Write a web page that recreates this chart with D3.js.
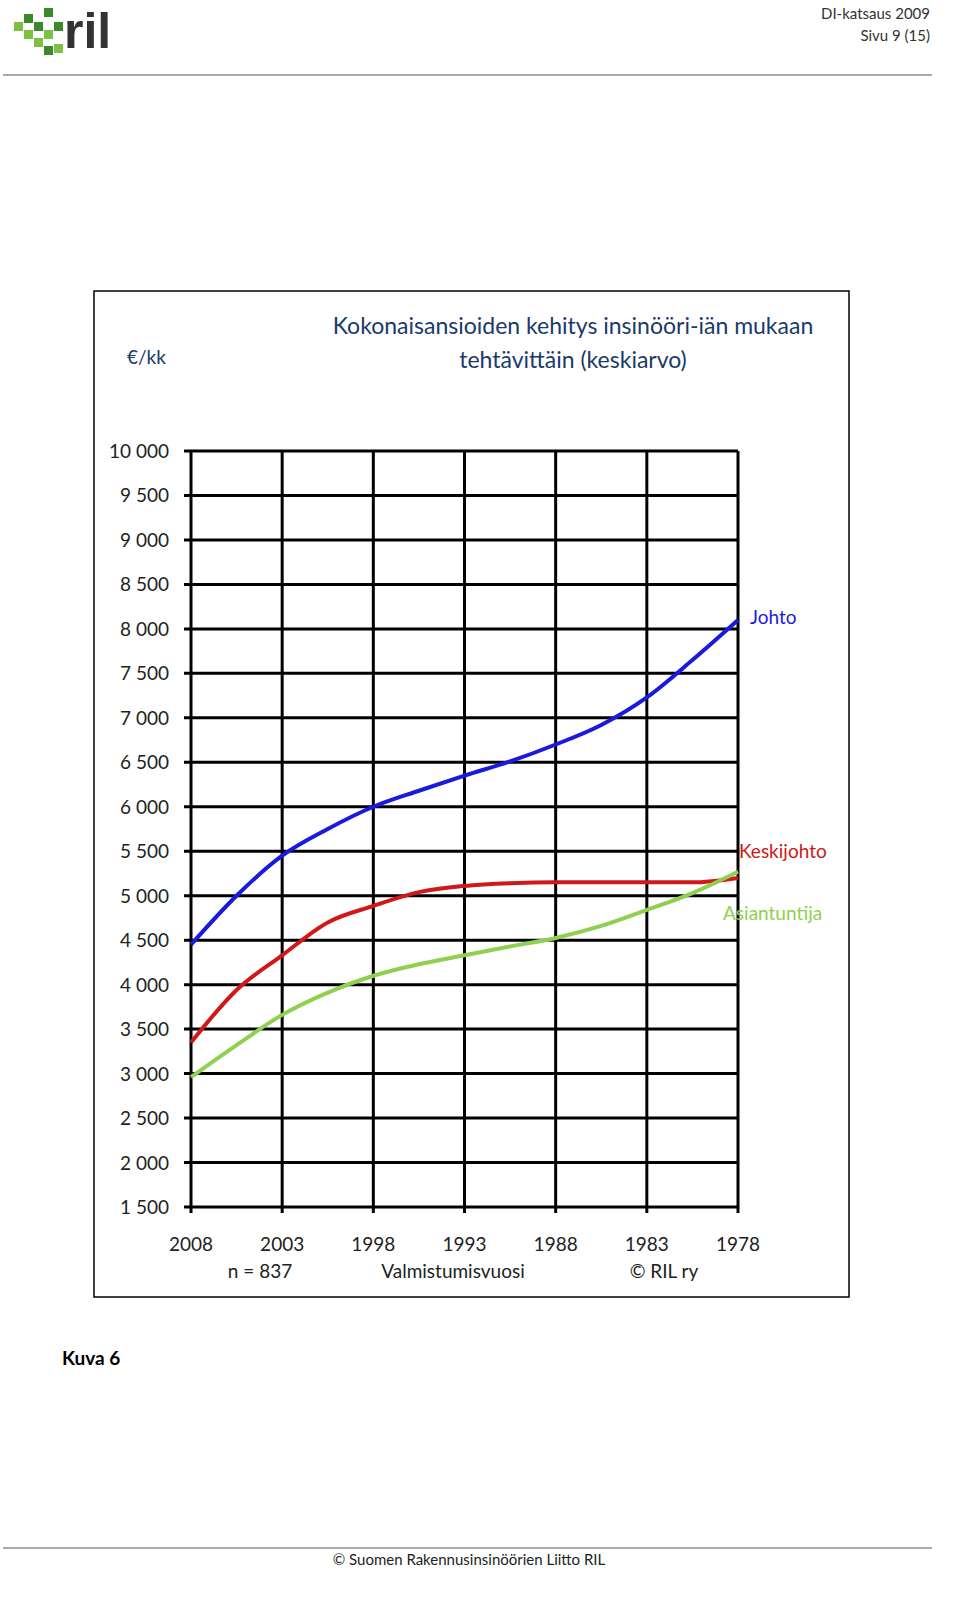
<!DOCTYPE html>
<html><head><meta charset="utf-8">
<script src="https://cdn.jsdelivr.net/npm/d3@7"></script>
<style>body{margin:0;background:#fff}svg{font-family:Lato,"Open Sans",sans-serif}</style>
</head><body><svg id="c" width="960" height="1612"></svg>
<script>
const years=[2008,2005.5,2003,2000.5,1998,1995.5,1993,1990.5,1988,1985.5,1983,1980.5,1978];
const johto=[4450,5000,5450,5750,6000,6180,6350,6510,6700,6920,7230,7650,8100];
const keskijohto=[3350,3940,4330,4700,4885,5040,5110,5140,5150,5150,5150,5150,5200];
const asiantuntija=[2960,3320,3660,3910,4100,4230,4330,4430,4525,4660,4840,5030,5270];
const xTicks=[2008,2003,1998,1993,1988,1983,1978];
const yTicks=d3.range(1500,10001,500);
const svg=d3.select("#c");
const x=d3.scaleLinear().domain([2008,1978]).range([191,738]);
const y=d3.scaleLinear().domain([1500,10000]).range([1207,451]);
const fmt=v=>d3.format(",")(v).replace(","," ");
// header
svg.append("line").attr("x1",3).attr("x2",932).attr("y1",75).attr("y2",75).attr("stroke","#555");
svg.append("text").attr("x",930).attr("y",19).attr("text-anchor","end").attr("font-size",15).attr("fill","#333").text("DI-katsaus 2009");
svg.append("text").attr("x",930).attr("y",41).attr("text-anchor","end").attr("font-size",15).attr("fill","#333").text("Sivu 9 (15)");
// logo
const cubes=[[14,22],[24,14],[24,30],[34,22],[34,38],[44,8],[44,30],[54,22],[54,44],[44,46]];
cubes.forEach(([cx,cy],i)=>svg.append("rect").attr("x",cx).attr("y",cy).attr("width",9).attr("height",9).attr("fill",i%2?"#3a8a2a":"#7cc242"));
svg.append("text").attr("x",64).attr("y",48).attr("font-size",50).attr("font-weight","bold").attr("fill","#333").attr("font-family","Liberation Sans").text("ril");
// frame
svg.append("rect").attr("x",94).attr("y",291).attr("width",755).attr("height",1006).attr("fill","none").attr("stroke","#000").attr("stroke-width",1.5);
svg.append("text").attr("x",573).attr("y",334).attr("text-anchor","middle").attr("font-size",23).attr("fill","#1a3a6b").text("Kokonaisansioiden kehitys insinööri-iän mukaan");
svg.append("text").attr("x",573).attr("y",368).attr("text-anchor","middle").attr("font-size",23).attr("fill","#1a3a6b").text("tehtävittäin (keskiarvo)");
svg.append("text").attr("x",127).attr("y",364).attr("font-size",19).attr("fill","#1a3a6b").text("€/kk");
// grid
yTicks.forEach(v=>{svg.append("line").attr("x1",184).attr("x2",738).attr("y1",y(v)).attr("y2",y(v)).attr("stroke","#000").attr("stroke-width",3);
 svg.append("text").attr("x",169).attr("y",y(v)+7).attr("text-anchor","end").attr("font-size",19).attr("fill","#222").text(fmt(v));});
xTicks.forEach(v=>{svg.append("line").attr("x1",x(v)).attr("x2",x(v)).attr("y1",451).attr("y2",1213).attr("stroke","#000").attr("stroke-width",3);
 svg.append("text").attr("x",x(v)).attr("y",1251).attr("text-anchor","middle").attr("font-size",19).attr("fill","#222").text(v);});
svg.append("text").attr("x",260).attr("y",1278).attr("text-anchor","middle").attr("font-size",19).attr("fill","#222").text("n = 837");
svg.append("text").attr("x",453).attr("y",1278).attr("text-anchor","middle").attr("font-size",19).attr("fill","#222").text("Valmistumisvuosi");
svg.append("text").attr("x",664).attr("y",1278).attr("text-anchor","middle").attr("font-size",19).attr("fill","#222").text("© RIL ry");
// lines
const line=d3.line().x((d,i)=>x(years[i])).y(d=>y(d)).curve(d3.curveMonotoneX);
[[johto,"#1a1adf"],[keskijohto,"#d01818"],[asiantuntija,"#8fd050"]].forEach(([s,c])=>
 svg.append("path").attr("d",line(s)).attr("fill","none").attr("stroke",c).attr("stroke-width",4));
svg.append("text").attr("x",750).attr("y",624).attr("font-size",19).attr("fill","#1a1adf").text("Johto");
svg.append("text").attr("x",739).attr("y",858).attr("font-size",19).attr("fill","#d01818").text("Keskijohto");
svg.append("text").attr("x",723).attr("y",920).attr("font-size",19).attr("fill","#8fd050").text("Asiantuntija");
svg.append("text").attr("x",62).attr("y",1365).attr("font-size",19).attr("font-weight","bold").text("Kuva 6");
svg.append("line").attr("x1",3).attr("x2",932).attr("y1",1548).attr("y2",1548).attr("stroke","#555");
svg.append("text").attr("x",469).attr("y",1565).attr("text-anchor","middle").attr("font-size",15).attr("fill","#222").text("© Suomen Rakennusinsinöörien Liitto RIL");
</script></body></html>
